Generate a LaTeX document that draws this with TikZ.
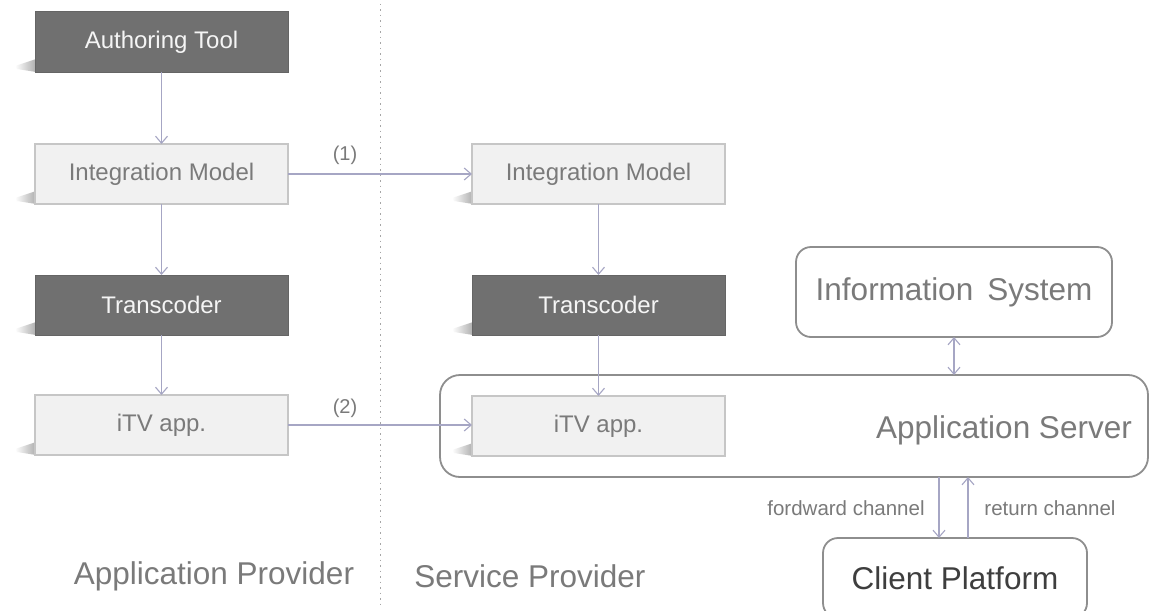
\documentclass[tikz,border=0pt]{standalone}
\usepackage{fontspec}
\setmainfont{Liberation Sans}
\usetikzlibrary{arrows.meta,backgrounds,calc}
\definecolor{darkbox}{HTML}{707070}
\definecolor{lightbox}{HTML}{F1F1F1}
\definecolor{lightedge}{HTML}{C6C6C6}
\definecolor{linkcol}{HTML}{A6A6C4}
\definecolor{labelgray}{HTML}{7A7A7A}
\definecolor{roundedge}{HTML}{8E8E8E}
\definecolor{clienttext}{HTML}{3E3E3E}

\begin{document}
\begin{tikzpicture}[x=1pt,y=-1pt,
  every node/.style={inner sep=0pt, outer sep=0pt},
  boxfont/.style={font=\fontsize{24}{26}\selectfont},
  bigfont/.style={font=\fontsize{31.5}{34}\selectfont},
  darkrect/.style={boxfont, fill=darkbox, draw=darkbox!90!black, line width=1pt,
    minimum width=253pt, minimum height=60pt, text=white!92!gray},
  lightrect/.style={boxfont, fill=lightbox, draw=lightedge, line width=1.2pt,
    minimum width=253pt, minimum height=60pt, text=labelgray},
  roundbox/.style={draw=roundedge, line width=1.8pt},
  flow/.style={draw=linkcol, line width=1.1pt, -{Straight Barb[length=7pt,width=12pt]}},
  twoway/.style={draw=linkcol, line width=1.1pt,
    {Straight Barb[length=7pt,width=12pt]}-{Straight Barb[length=7pt,width=12pt]}},
  numlabel/.style={font=\fontsize{20}{22}\selectfont, text=labelgray},
  chanlabel/.style={font=\fontsize{20.5}{22}\selectfont, text=labelgray},
  sidelabel/.style={bigfont, text=labelgray},
  boxshadow/.style={left color=white, right color=black!32},
  divider/.style={draw=black!35, line width=1pt, dash pattern=on 1.5pt off 4pt}
]
\clip (0,0) rectangle (1150,610);

% divider between the two parties
\draw[divider] (380,4) -- (380,606);

% application provider chain
\node[darkrect]  (auth)  at (161.5,42)  {Authoring Tool};
\node[lightrect] (intL)  at (161.5,174) {Integration Model};
\node[darkrect]  (transL) at (161.5,305) {Transcoder};
\node[lightrect] (itvL)  at (161.5,425) {iTV app.};

% service provider side
\node[roundbox, rounded corners=15pt, minimum width=316pt, minimum height=90pt,
      bigfont, text=labelgray] (info) at (954,292) {Information\, System};
\node[roundbox, rounded corners=20pt, minimum width=708pt, minimum height=102pt] (app) at (794,426) {};
\node[bigfont, text=labelgray] (apptext) at (1004,430) {Application Server};
\node[lightrect] (intR)   at (598.5,174) {Integration Model};
\node[darkrect]  (transR) at (598.5,305) {Transcoder};
\node[lightrect] (itvR)   at (598.5,426) {iTV app.};
\node[roundbox, rounded corners=15pt, minimum width=264pt, minimum height=80pt,
      bigfont, text=clienttext] (client) at (955,578) {Client Platform};

% soft shadows at the lower left of the rectangular boxes
\begin{scope}[on background layer]
  \fill[white] (0,0) rectangle (1150,610);
  \foreach \b in {auth,intL,transL,itvL,intR,transR,itvR}{
    \shade[boxshadow] ($(\b.south west)+(1,-13)$) -- ($(\b.south west)+(-20,-6)$)
      -- ($(\b.south west)+(-18,-3)$) -- ($(\b.south west)+(1,0)$) -- cycle;
  }
\end{scope}

% flows
\draw[flow] (auth) -- (intL);
\draw[flow] (intL) -- (transL);
\draw[flow] (transL) -- (itvL);
\draw[flow] (intR) -- (transR);
\draw[flow] (transR) -- (itvR);
\draw[flow] (intL.east) -- (intL.east -| intR.west);
\draw[flow] (itvL.east) -- (itvL.east -| itvR.west);
\draw[twoway] (info.south) -- (info.south |- app.north);

\path ([xshift=-16pt]client.north) coordinate (fwdend)
      ([xshift=13pt]client.north) coordinate (retstart);
\draw[flow] (fwdend |- app.south) -- (fwdend);
\draw[flow] (retstart) -- (retstart |- app.south);

% labels
\node[numlabel] (one) at (345,155) {(1)};
\node[numlabel] (two) at (345,408) {(2)};
\node[chanlabel] (fwdtext) at (846,508) {fordward channel};
\node[chanlabel] (rettext) at (1050,508) {return channel};
\node[sidelabel] (apprv) at (214,576) {Application Provider};
\node[sidelabel] (srvprv) at (530,576) {Service Provider};
\end{tikzpicture}
\end{document}
